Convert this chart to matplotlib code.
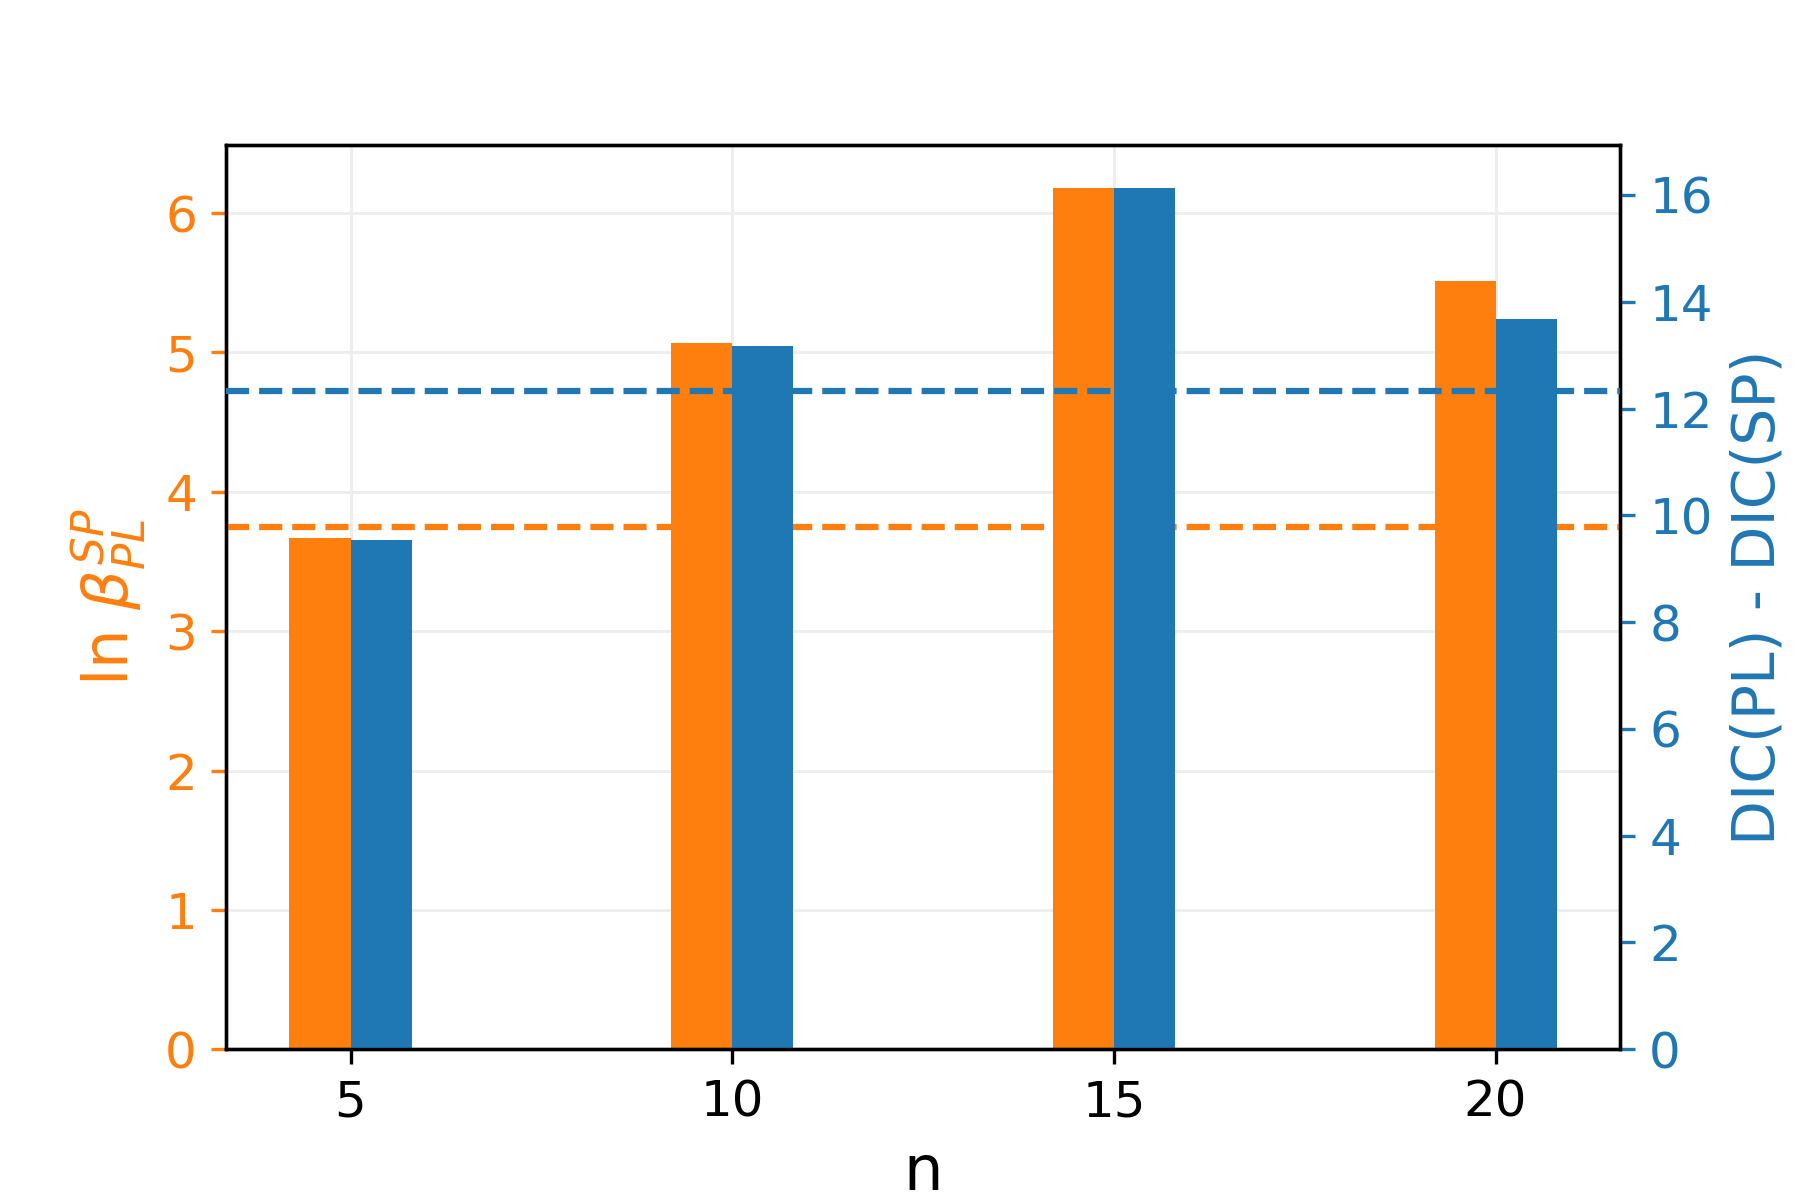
import matplotlib
matplotlib.use("Agg")
import matplotlib.pyplot as plt
import numpy as np

n_values = [5, 10, 15, 20]
ln_beta = [3.67, 5.07, 6.18, 5.51]
dic_diff = [9.54, 13.17, 16.13, 13.68]
ln_beta_ref = 3.75
dic_ref = 12.33

orange = "#ff7f0e"
blue = "#1f77b4"

fig = plt.figure(figsize=(6, 4), dpi=300)
ax1 = fig.add_axes([0.1256, 0.1256, 0.7744, 0.7536])
ax2 = ax1.twinx()

x = np.array(n_values, dtype=float)
ax1.bar(x, ln_beta, width=-0.8, align="edge", color=orange, zorder=2)
ax2.bar(x, dic_diff, width=0.8, align="edge", color=blue, zorder=2)
ax1.axhline(ln_beta_ref, color=orange, linestyle="--", linewidth=1.5, zorder=3)
ax2.axhline(dic_ref, color=blue, linestyle="--", linewidth=1.5, zorder=3)

ax1.grid(True, color="#eeeeee", linewidth=0.7, zorder=0)
ax1.set_axisbelow(True)
ax1.set_xticks(n_values)
ax1.tick_params(axis="x", labelsize=12)
ax1.tick_params(axis="y", colors=orange, labelsize=12)
ax2.tick_params(axis="y", colors=blue, labelsize=12)
for ax in (ax1, ax2):
    for s in ax.spines.values():
        s.set_color("black")

ax1.set_xlabel("n", fontsize=15)
ax1.set_ylabel(r"ln $\beta_{PL}^{SP}$", color=orange, fontsize=15)
ax2.set_ylabel("DIC(PL) - DIC(SP)", color=blue, fontsize=14)

fig.savefig("out.png", dpi=300)
